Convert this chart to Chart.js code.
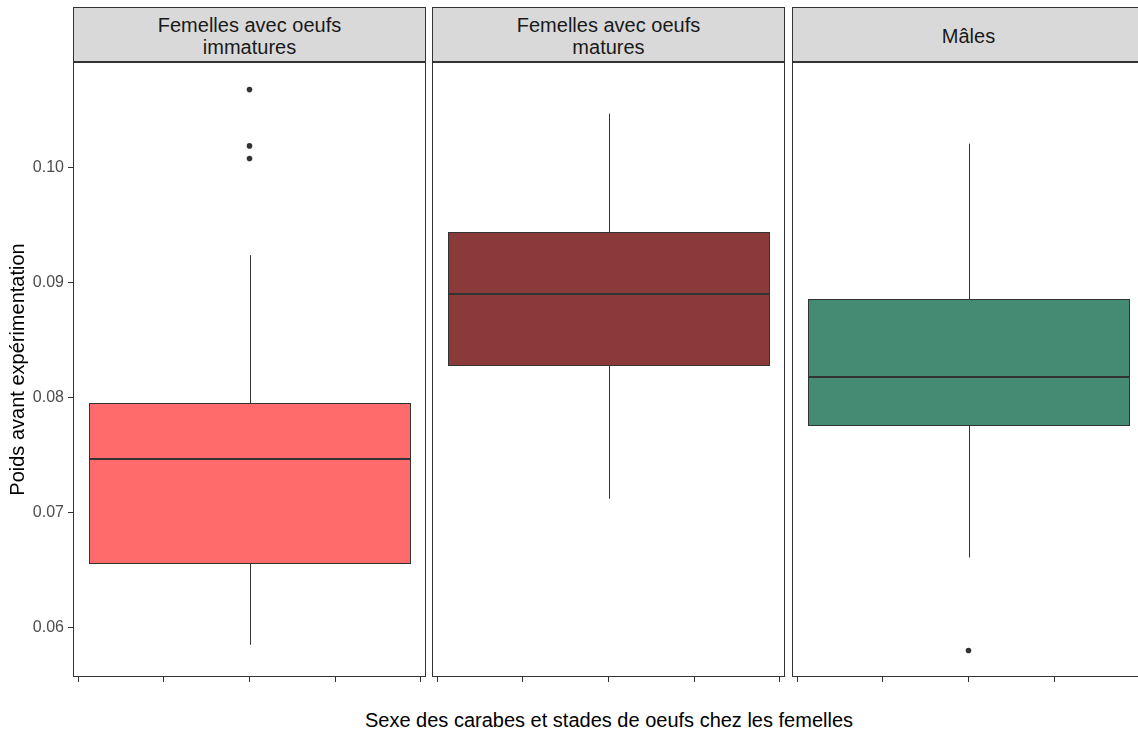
<!DOCTYPE html>
<html>
<head>
<meta charset="utf-8">
<script src="https://cdn.jsdelivr.net/npm/chart.js@4.4.0/dist/chart.umd.min.js"></script>
<style>
  body {
    margin: 0;
    width: 1138px;
    height: 738px;
    overflow: hidden;
    background: #fff;
    position: relative;
    font-family: "Liberation Sans", Arial, sans-serif;
  }
  .strip {
    position: absolute;
    top: 7px;
    height: 55px;
    width: 353px;
    box-sizing: border-box;
    border: 1px solid #333;
    background: #d9d9d9;
    color: #1a1a1a;
    font-size: 20px;
    line-height: 22px;
    display: flex;
    align-items: center;
    justify-content: center;
    text-align: center;
    white-space: pre-line;
    padding-top: 2px;
  }
  .panel {
    position: absolute;
    top: 62px;
    height: 628px;
  }
  #xtitle {
    position: absolute;
    left: 73px;
    width: 1072px;
    top: 708px;
    font-size: 20px;
    line-height: 24px;
    text-align: center;
    color: #000;
  }
</style>
</head>
<body>
<div id="strips"></div>
<div id="panels"></div>
<div id="xtitle">Sexe des carabes et stades de oeufs chez les femelles</div>
<script>
// données (boxplots par facette)
const facetLabels = ['Femelles avec oeufs\nimmatures', 'Femelles avec oeufs\nmatures', 'Mâles'];
const whiskerLow  = [0.0585, 0.0712, 0.0661];
const q1          = [0.0656, 0.0828, 0.0776];
const medians     = [0.0747, 0.0890, 0.0818];
const q3          = [0.0795, 0.0944, 0.0886];
const whiskerHigh = [0.0924, 0.1047, 0.1021];
const outliers    = [[0.1068, 0.1019, 0.1008], [], [0.0580]];
const boxColors   = ['#FF6A6A', '#8B3A3A', '#458B74'];

const yTicks = [0.06, 0.07, 0.08, 0.09, 0.10];
const xTicks = [-0.4, -0.2, 0, 0.2, 0.4];

const Y_MIN = 0.0557;
const Y_MAX = 0.1092;
const BOX_HALF = 0.375;
const X_LIM = BOX_HALF * 1.1;

const FONT = '"Liberation Sans", Arial, sans-serif';

// positions des facettes (gauche du panneau)
const panelLefts = [73, 432, 792];
const PANEL_W = 353;
const Y_AXIS_W = 73;

function noPadding(s) {
    s.paddingLeft = 0;
    s.paddingRight = 0;
    s.paddingTop = 0;
    s.paddingBottom = 0;
}

const boxplotPlugin = {
    id: 'boxplot',
    beforeDatasetsDraw(chart) {
        const i = chart.options.plugins.boxplot.index;
        const { ctx, scales: { x, y } } = chart;
        const xc = Math.round(x.getPixelForValue(0)) + 0.5;
        const xl = Math.round(x.getPixelForValue(-BOX_HALF)) + 0.5;
        const xr = Math.round(x.getPixelForValue(BOX_HALF)) + 0.5;
        const yTop = Math.round(y.getPixelForValue(q3[i])) + 0.5;
        const yBot = Math.round(y.getPixelForValue(q1[i])) + 0.5;
        const yMed = Math.round(y.getPixelForValue(medians[i]));

        ctx.save();
        ctx.strokeStyle = '#333333';
        ctx.lineWidth = 1;

        // moustaches
        ctx.beginPath();
        ctx.moveTo(xc, y.getPixelForValue(whiskerHigh[i]));
        ctx.lineTo(xc, yTop);
        ctx.moveTo(xc, yBot);
        ctx.lineTo(xc, y.getPixelForValue(whiskerLow[i]));
        ctx.stroke();

        // boîte
        ctx.fillStyle = boxColors[i];
        ctx.fillRect(xl, yTop, xr - xl, yBot - yTop);
        ctx.strokeRect(xl, yTop, xr - xl, yBot - yTop);

        // médiane
        ctx.lineWidth = 2;
        ctx.beginPath();
        ctx.moveTo(xl, yMed);
        ctx.lineTo(xr, yMed);
        ctx.stroke();
        ctx.restore();
    },
    afterDraw(chart) {
        // bordure du panneau
        const { ctx, chartArea } = chart;
        ctx.save();
        ctx.strokeStyle = '#333333';
        ctx.lineWidth = 1;
        ctx.strokeRect(chartArea.left + 0.5, chartArea.top + 0.5,
            chartArea.right - chartArea.left - 1, chartArea.bottom - chartArea.top - 1);
        ctx.restore();
    }
};

const stripsEl = document.getElementById('strips');
const panelsEl = document.getElementById('panels');

facetLabels.forEach((label, i) => {
    const strip = document.createElement('div');
    strip.className = 'strip';
    strip.style.left = panelLefts[i] + 'px';
    strip.textContent = label;
    stripsEl.appendChild(strip);

    const withAxis = i === 0;
    const left = withAxis ? panelLefts[i] - Y_AXIS_W : panelLefts[i];
    const width = withAxis ? PANEL_W + Y_AXIS_W : PANEL_W;

    const wrap = document.createElement('div');
    wrap.className = 'panel';
    wrap.style.left = left + 'px';
    wrap.style.width = width + 'px';
    const canvas = document.createElement('canvas');
    canvas.width = width;
    canvas.height = 628;
    wrap.appendChild(canvas);
    panelsEl.appendChild(wrap);

    new Chart(canvas.getContext('2d'), {
        type: 'scatter',
        data: {
            datasets: [{
                label: 'outliers',
                data: outliers[i].map(v => ({ x: 0, y: v })),
                pointRadius: 2.8,
                pointBackgroundColor: '#333333',
                pointBorderWidth: 0,
                clip: false
            }]
        },
        plugins: [boxplotPlugin],
        options: {
            responsive: false,
            devicePixelRatio: 1,
            animation: false,
            events: [],
            layout: { padding: 0, autoPadding: false },
            plugins: {
                legend: { display: false },
                tooltip: { enabled: false },
                boxplot: { index: i }
            },
            scales: {
                x: {
                    type: 'linear',
                    min: -X_LIM,
                    max: X_LIM,
                    afterBuildTicks: s => { s.ticks = xTicks.map(v => ({ value: v })); },
                    afterFit: s => { s.height = 13; noPadding(s); },
                    ticks: { display: false },
                    grid: { drawOnChartArea: false, drawTicks: true, tickLength: 5, color: '#333333' },
                    border: { display: false }
                },
                y: {
                    type: 'linear',
                    min: Y_MIN,
                    max: Y_MAX,
                    display: withAxis,
                    afterBuildTicks: s => { s.ticks = yTicks.map(v => ({ value: v })); },
                    afterFit: s => {
                        s.width = withAxis ? Y_AXIS_W : 0;
                        noPadding(s);
                    },
                    ticks: {
                        callback: v => Number(v).toFixed(2),
                        color: '#4d4d4d',
                        font: { size: 16, family: FONT },
                        padding: 4
                    },
                    grid: { drawOnChartArea: false, drawTicks: true, tickLength: 5, color: '#333333' },
                    border: { display: false },
                    title: {
                        display: true,
                        text: 'Poids avant expérimentation',
                        color: '#000',
                        font: { size: 20, family: FONT },
                        padding: { top: 6, bottom: 0 }
                    }
                }
            }
        }
    });
});
</script>
</body>
</html>
